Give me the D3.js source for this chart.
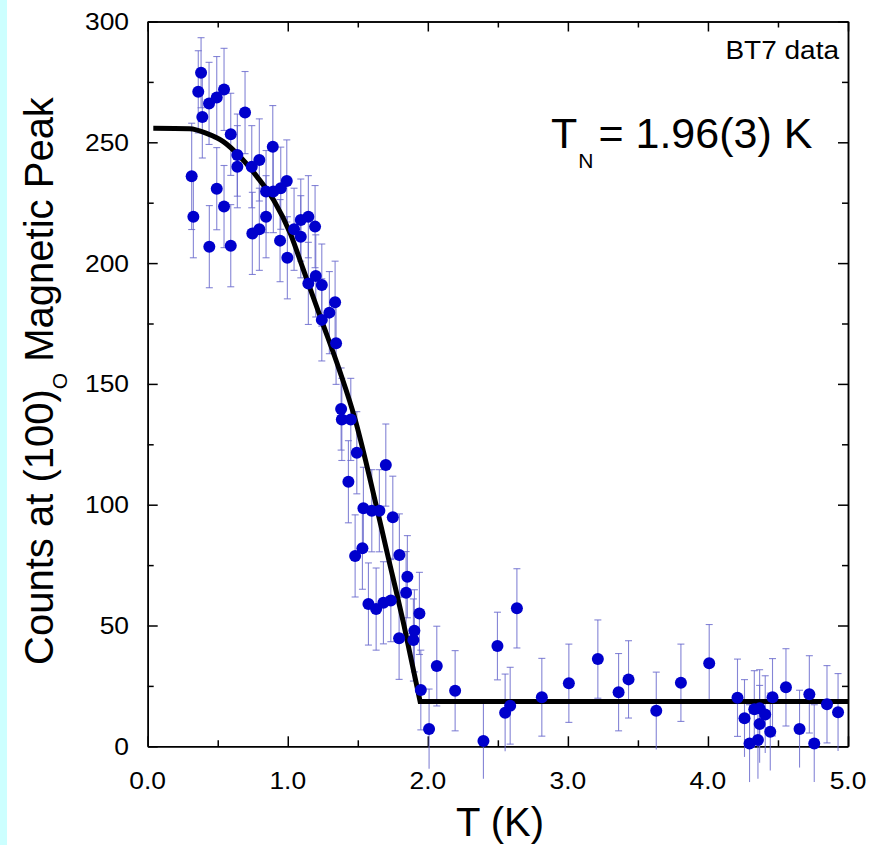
<!DOCTYPE html>
<meta charset="utf-8">
<style>
    body { margin: 0; background: #fff; }
    svg { display: block; font-family: Arial, "Liberation Sans", sans-serif; }
    .axis path, .axis line { stroke: #000; stroke-width: 1.5px; }
    .errbar { stroke: #6666cc; stroke-width: 1.1px; stroke-opacity: 0.8; }
</style>

<svg width="879" height="845"></svg>

<script src="https://cdn.jsdelivr.net/npm/d3@7/dist/d3.min.js"></script>
<script>
    // measured points: temperature (K), counts, error
    var temps = [0.314, 0.326, 0.361, 0.381, 0.390, 0.438, 0.440, 0.493, 0.493, 0.545, 0.545, 0.593, 0.593, 0.640, 0.640, 0.695,
        0.743, 0.747, 0.797, 0.797, 0.845, 0.845, 0.893, 0.897, 0.945, 0.950, 0.993, 0.997, 1.045, 1.093, 1.093, 1.147,
        1.147, 1.195, 1.200, 1.243, 1.243, 1.297, 1.338, 1.345, 1.381, 1.386, 1.433, 1.450, 1.481, 1.493, 1.533, 1.540,
        1.576, 1.600, 1.631, 1.654, 1.683, 1.700, 1.736, 1.750, 1.795, 1.797, 1.845, 1.854, 1.897, 1.904, 1.940, 1.950,
        2.009, 2.064, 2.195, 2.397, 2.497, 2.552, 2.588, 2.636, 2.814, 3.007, 3.214, 3.362, 3.433, 3.631, 3.807, 4.009,
        4.211, 4.261, 4.297, 4.331, 4.357, 4.369, 4.369, 4.409, 4.445, 4.461, 4.557, 4.654, 4.724, 4.759, 4.850, 4.929];
    var counts = [235.9, 219.2, 270.9, 278.8, 260.5, 266.1, 206.8, 268.5, 230.8, 271.9, 223.4, 253.3, 207.2, 244.7, 239.9, 262.3,
        239.9, 212.3, 242.7, 214.0, 229.6, 219.2, 248.2, 229.6, 209.3, 231.0, 234.0, 202.2, 214.0, 217.8, 210.9, 219.2,
        191.6, 215.1, 194.7, 190.9, 176.5, 179.5, 183.8, 166.8, 139.6, 135.3, 109.5, 135.3, 78.8, 121.5, 82.0, 98.5,
        58.9, 97.5, 56.8, 97.5, 59.4, 116.4, 60.3, 94.8, 44.7, 79.2, 63.6, 70.2, 44.0, 47.8, 55.0, 23.3,
        7.2, 33.2, 23.0, 2.2, 41.5, 13.9, 16.8, 57.1, 20.3, 26.1, 36.1, 22.4, 27.7, 14.7, 26.3, 34.4,
        20.1, 11.6, 1.2, 15.3, 2.6, 15.7, 9.2, 13.2, 6.0, 20.3, 24.4, 7.2, 21.5, 1.2, 17.4, 14.1];
    var errors = [22, 17, 17, 14.5, 17, 17, 17, 17, 17, 17, 17, 17, 17, 17, 17, 17,
        17, 17, 17, 17, 17, 17, 17, 17, 17, 17, 17, 17, 17, 17, 17, 17,
        17, 17, 17, 17, 17, 17, 17, 17, 17, 17, 17, 17, 17, 17, 17, 17,
        17, 17, 17, 17, 17, 17, 17, 17, 17, 17, 17, 17, 17, 17, 17, 16.5,
        16.5, 16.5, 16.6, 15.6, 14, 16, 15.9, 16.4, 16.1, 16.2, 16.2, 16, 16, 16, 16, 16,
        16, 16, 16, 16, 16, 16, 16, 16, 16, 16, 16, 16, 16, 16, 16, 16];

    // fitted order-parameter curve
    var fitT = [0.04, 0.30, 0.42, 0.54, 0.66, 0.78, 0.90, 1.02, 1.11, 1.24, 1.37, 1.48, 1.59, 1.71, 1.83, 1.945, 5.0];
    var fitC = [255.8, 255.6, 253.7, 250.3, 244.0, 235.8, 226.0, 212.0, 197.5, 176.5, 155.5, 135.5, 110.0, 80.0, 50.0, 18.5, 18.5];

    var xTicks = [0, 1, 2, 3, 4, 5],
        xTickLabels = ["0.0", "1.0", "2.0", "3.0", "4.0", "5.0"],
        xMinor = [0.5, 1.5, 2.5, 3.5, 4.5],
        yTicks = [0, 50, 100, 150, 200, 250, 300],
        yTickLabels = ["0", "50", "100", "150", "200", "250", "300"],
        yMinor = [25, 75, 125, 175, 225, 275];

    (function () {
        var svg = d3.select("svg"),
            left = 147.7, right = 848, top = 21.5, bottom = 746.3;

        // light cyan strip on the left edge
        svg.append("rect")
            .attr("x", 0).attr("y", 0)
            .attr("width", 7).attr("height", 845)
            .attr("fill", "#ccffff");

        var x = d3.scaleLinear().domain([0, 5]).range([left, right]),
            y = d3.scaleLinear().domain([0, 300]).range([bottom, top]);

        function addAxis(gen, tx, ty, ticks, size) {
            svg.append("g")
                .attr("class", "axis")
                .attr("transform", "translate(" + [tx, ty] + ")")
                .call(gen.tickValues(ticks).tickSize(size).tickSizeOuter(0).tickFormat(""));
        }

        // major ticks (inward) on all four sides, plus the frame
        addAxis(d3.axisBottom(x), 0, bottom, xTicks, -10);
        addAxis(d3.axisTop(x), 0, top, xTicks, -10);
        addAxis(d3.axisLeft(y), left, 0, yTicks, -10);
        addAxis(d3.axisRight(y), right, 0, yTicks, -10);
        // minor ticks
        addAxis(d3.axisBottom(x), 0, bottom, xMinor, -6);
        addAxis(d3.axisTop(x), 0, top, xMinor, -6);
        addAxis(d3.axisLeft(y), left, 0, yMinor, -6);
        addAxis(d3.axisRight(y), right, 0, yMinor, -6);

        // tick labels
        svg.append("g").selectAll("text")
            .data(xTicks)
            .enter().append("text")
            .attr("transform", function (d) { return "translate(" + [x(d), 789] + ") scale(1.1,1)"; })
            .attr("text-anchor", "middle")
            .attr("font-size", 24)
            .text(function (d, i) { return xTickLabels[i]; });

        svg.append("g").selectAll("text")
            .data(yTicks)
            .enter().append("text")
            .attr("transform", function (d) { return "translate(" + [129, y(d) + 8.5] + ") scale(1.1,1)"; })
            .attr("text-anchor", "end")
            .attr("font-size", 24)
            .text(function (d, i) { return yTickLabels[i]; });

        // axis titles
        svg.append("text")
            .attr("x", 500).attr("y", 836)
            .attr("text-anchor", "middle")
            .attr("font-size", 40)
            .text("T (K)");

        var ylab = svg.append("text")
            .attr("transform", "translate(53,381) rotate(-90)")
            .attr("text-anchor", "middle")
            .attr("font-size", 40);
        ylab.append("tspan").text("Counts at (100)");
        ylab.append("tspan").attr("font-size", 21).attr("dy", 14).text("O");
        ylab.append("tspan").attr("dy", -14).text(" Magnetic Peak");

        // annotations
        svg.append("text")
            .attr("transform", "translate(839,59) scale(1.12,1)")
            .attr("text-anchor", "end")
            .attr("font-size", 25)
            .text("BT7 data");

        var tn = svg.append("text")
            .attr("x", 551).attr("y", 148)
            .attr("font-size", 43);
        tn.append("tspan").text("T");
        tn.append("tspan").attr("font-size", 21).attr("dy", 20).attr("dx", 1).text("N");
        tn.append("tspan").attr("dy", -20).attr("dx", 5).text("= 1.96(3) K");

        var pts = temps.map(function (t, i) {
            return {t: t, c: counts[i], e: errors[i]};
        });

        // error bars
        var eb = svg.append("g").attr("class", "errbar")
            .selectAll("g")
            .data(pts)
            .enter().append("g");
        eb.append("line")
            .attr("x1", function (d) { return x(d.t); })
            .attr("x2", function (d) { return x(d.t); })
            .attr("y1", function (d) { return y(d.c - d.e); })
            .attr("y2", function (d) { return y(d.c + d.e); });
        eb.append("line")
            .attr("x1", function (d) { return x(d.t) - 3.5; })
            .attr("x2", function (d) { return x(d.t) + 3.5; })
            .attr("y1", function (d) { return y(d.c + d.e); })
            .attr("y2", function (d) { return y(d.c + d.e); });
        eb.append("line")
            .attr("x1", function (d) { return x(d.t) - 3.5; })
            .attr("x2", function (d) { return x(d.t) + 3.5; })
            .attr("y1", function (d) { return y(Math.max(d.c - d.e, 0)); })
            .attr("y2", function (d) { return y(Math.max(d.c - d.e, 0)); })
            .attr("display", function (d) { return d.c - d.e < 0 ? "none" : null; });

        // fit curve: smooth part down to T_N, then flat background
        var fitPts = fitT.map(function (t, i) { return [t, fitC[i]]; }),
            n = fitPts.length,
            curve = d3.line()
                .x(function (d) { return x(d[0]); })
                .y(function (d) { return y(d[1]); })
                .curve(d3.curveMonotoneX);
        svg.append("path")
            .attr("d", curve(fitPts.slice(0, n - 1)) + "L" + x(fitPts[n - 1][0]) + "," + y(fitPts[n - 1][1]))
            .attr("fill", "none")
            .attr("stroke", "#000")
            .attr("stroke-width", 5);

        // data points
        svg.append("g").selectAll("circle")
            .data(pts)
            .enter().append("circle")
            .attr("cx", function (d) { return x(d.t); })
            .attr("cy", function (d) { return y(d.c); })
            .attr("r", 6)
            .attr("fill", "#0000cc");
    })();
</script>
